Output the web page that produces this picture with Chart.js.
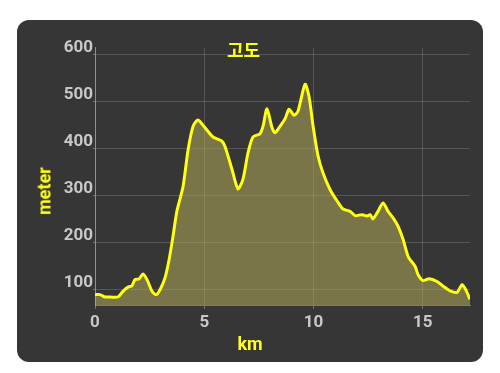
<!DOCTYPE html>
<html>
<head>
<meta charset="utf-8">
<script src="https://cdn.jsdelivr.net/npm/chart.js@4"></script>
<style>
  html, body { margin: 0; padding: 0; background: #fff; width: 500px; height: 373px; overflow: hidden; }
  #card { position: absolute; left: 17px; top: 20px; width: 466px; height: 342px; border-radius: 12px; background: #363636; overflow: hidden; }
  #card canvas { position: absolute; left: 0; top: 0; }
  .axt { position: absolute; color: #ffff1e; font: bold 18px Roboto, sans-serif; white-space: nowrap; }
  #xt { left: 233px; top: 323px; transform: translate(-50%, -50%); }
  #yt { left: 27px; top: 171px; transform: translate(-50%, -50%) rotate(-90deg); }
</style>
</head>
<body>
<div id="card">
  <canvas id="c" width="466" height="342"></canvas>
  <div id="xt" class="axt">km</div>
  <div id="yt" class="axt">meter</div>
</div>
<script>
/* 고도 프로필: 거리(km) × 고도(m), 그림에서 읽은 값 */
const distKm = [0.00, 0.23, 0.46, 0.69, 1.05, 1.28, 1.51, 1.69, 1.83, 2.01, 2.20, 2.38, 2.61, 2.79, 2.97,
  3.20, 3.39, 3.57, 3.75, 4.03, 4.26, 4.49, 4.71, 5.03, 5.40, 5.81, 5.95, 6.27, 6.54, 6.77,
  7.00, 7.23, 7.55, 7.69, 7.87, 8.10, 8.24, 8.47, 8.70, 8.88, 9.11, 9.29, 9.61, 9.79, 9.98,
  10.21, 10.43, 10.76, 11.08, 11.35, 11.67, 11.90, 12.22, 12.45, 12.59, 12.72, 12.95, 13.18, 13.41, 13.64,
  13.87, 14.10, 14.33, 14.65, 14.78, 15.01, 15.29, 15.65, 15.93, 16.25, 16.57, 16.80, 16.98, 17.16];
const altM = [90, 90, 85, 85, 85, 97, 106, 109, 122, 123, 134, 122, 97, 90, 100,
  125, 164, 214, 268, 320, 398, 448, 461, 445, 425, 416, 405, 356, 315, 335,
  391, 425, 432, 448, 485, 445, 434, 448, 464, 484, 471, 480, 537, 512, 448,
  384, 349, 313, 289, 272, 267, 258, 260, 257, 260, 251, 267, 285, 267, 253,
  235, 207, 171, 150, 133, 120, 124, 118, 108, 98, 95, 111, 99, 80];
const xTicks = [0, 5, 10, 15];
const yTicks = [100, 200, 300, 400, 500, 600];

const grid = 'rgba(255,255,255,0.16)';
const tick = '#c8c8c8';

new Chart(document.getElementById('c'), {
  type: 'line',
  data: {
    datasets: [{
      data: distKm.map((d, i) => ({ x: d, y: altM[i] })),
      borderColor: '#ffff14', borderWidth: 3,
      backgroundColor: 'rgba(190,180,90,0.5)', fill: 'start',
      tension: 0.25, pointRadius: 0,
    }],
  },
  options: {
    responsive: false, animation: false,
    layout: { padding: { left: 0, right: 13, top: 0, bottom: 0 } },
    plugins: {
      legend: { display: false },
      tooltip: { enabled: false },
      title: {
        display: true, text: '고도', color: '#ffff14',
        font: { family: '"Noto Sans CJK KR", Roboto', size: 18, weight: 'bold' },
        padding: { top: 19, bottom: -13 },
      },
    },
    scales: {
      x: {
        type: 'linear', min: 0, max: 17.16,
        afterBuildTicks: (s) => { s.ticks = xTicks.map((v) => ({ value: v })); },
        afterFit: (s) => { s.height = 57; },
        ticks: { color: tick, font: { family: 'Roboto', size: 17, weight: 'bold' }, padding: 4, maxRotation: 0 },
        grid: { color: grid, tickLength: 4, tickColor: 'rgba(255,255,255,0.3)' },
        border: { color: 'rgba(255,255,255,0.35)' },
      },
      y: {
        min: 68, max: 615,
        afterBuildTicks: (s) => { s.ticks = yTicks.map((v) => ({ value: v })); },
        afterFit: (s) => { s.width = 78; },
        ticks: { color: tick, font: { family: 'Roboto', size: 17, weight: 'bold' }, padding: 0, labelOffset: -7 },
        grid: { color: grid, tickLength: 2, tickColor: 'rgba(255,255,255,0.3)' },
        border: { color: 'rgba(255,255,255,0.35)' },
      },
    },
  },
});
</script>
</body>
</html>
